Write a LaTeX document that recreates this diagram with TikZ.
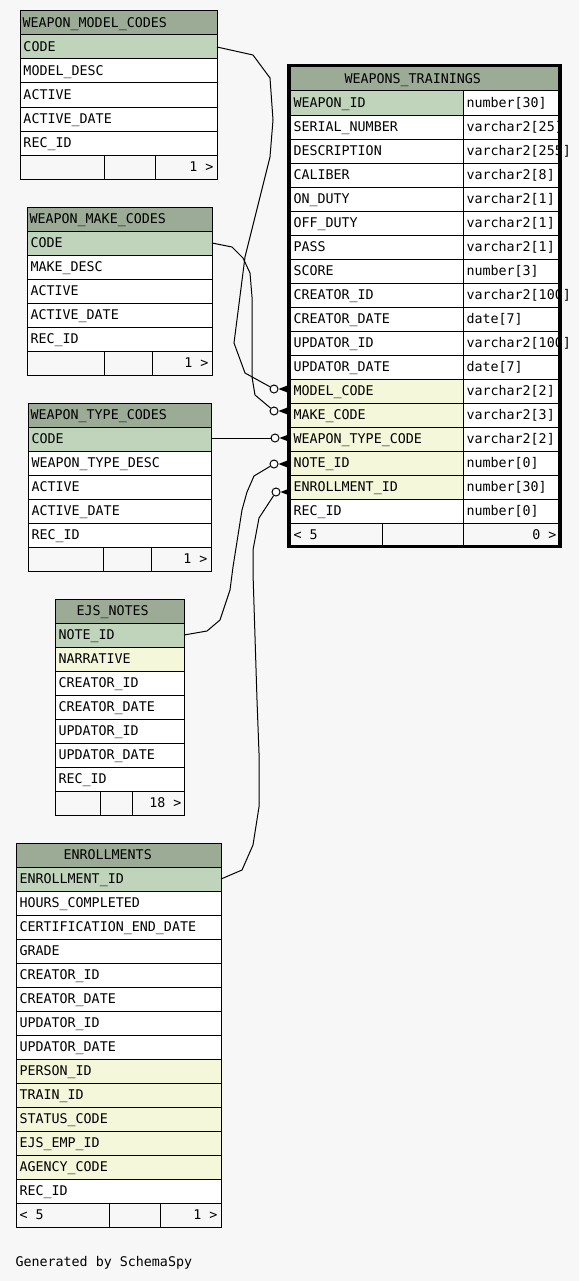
\documentclass[tikz,border=0pt]{standalone}
\usepackage{fontspec}
\newfontfamily\schemafont{DejaVu Sans Mono}
\definecolor{hdr}{HTML}{9BAB96}
\definecolor{pkc}{HTML}{BFD4BB}
\definecolor{fkc}{HTML}{F4F7DA}
\definecolor{bgc}{HTML}{F7F7F7}
\begin{document}
\begin{tikzpicture}[x=0.75pt,y=-0.75pt,line width=0.75pt,
  col/.style={anchor=west,inner sep=0pt,text height=7.2pt,text depth=0pt,
    font=\schemafont\fontsize{10}{12}\selectfont},
  colr/.style={col,anchor=east},
  fkend/.style={circle,draw,fill=white,inner sep=0pt,minimum size=6pt}]

\useasboundingbox (0,0) rectangle (579,1281);
\fill[bgc] (0,0) rectangle (579,1281);

% WEAPON_MODEL_CODES
\fill[hdr] (20,11) rectangle (217,35);
\fill[pkc] (20,35) rectangle (217,59);
\fill[white] (20,59) rectangle (217,155);
\draw (20,11) rectangle (217,179);
\draw (20,35) -- (217,35) (20,59) -- (217,59) (20,83) -- (217,83)
      (20,107) -- (217,107) (20,131) -- (217,131) (20,155) -- (217,155);
\draw (104,155) -- (104,179) (155,155) -- (155,179);
\node[col] (mc-h) at (22,23) {WEAPON\_MODEL\_CODES};
\node[col] (mc-code) at (23,47) {CODE};
\node[col] (mc-desc) at (23,71) {MODEL\_DESC};
\node[col] (mc-act) at (23,95) {ACTIVE};
\node[col] (mc-actd) at (23,119) {ACTIVE\_DATE};
\node[col] (mc-rec) at (23,143) {REC\_ID};
\node[colr] (mc-n) at (214,167) {1 >};
\coordinate (mc-pk) at (217,47);

% WEAPON_MAKE_CODES
\fill[hdr] (27,207) rectangle (212,231);
\fill[pkc] (27,231) rectangle (212,255);
\fill[white] (27,255) rectangle (212,351);
\draw (27,207) rectangle (212,375);
\draw (27,231) -- (212,231) (27,255) -- (212,255) (27,279) -- (212,279)
      (27,303) -- (212,303) (27,327) -- (212,327) (27,351) -- (212,351);
\draw (104,351) -- (104,375) (152,351) -- (152,375);
\node[col] (mk-h) at (29,219) {WEAPON\_MAKE\_CODES};
\node[col] (mk-code) at (30,243) {CODE};
\node[col] (mk-desc) at (30,267) {MAKE\_DESC};
\node[col] (mk-act) at (30,291) {ACTIVE};
\node[col] (mk-actd) at (30,315) {ACTIVE\_DATE};
\node[col] (mk-rec) at (30,339) {REC\_ID};
\node[colr] (mk-n) at (209,363) {1 >};
\coordinate (mk-pk) at (212,243);

% WEAPON_TYPE_CODES
\fill[hdr] (28,403) rectangle (211,427);
\fill[pkc] (28,427) rectangle (211,451);
\fill[white] (28,451) rectangle (211,547);
\draw (28,403) rectangle (211,571);
\draw (28,427) -- (211,427) (28,451) -- (211,451) (28,475) -- (211,475)
      (28,499) -- (211,499) (28,523) -- (211,523) (28,547) -- (211,547);
\draw (103,547) -- (103,571) (151,547) -- (151,571);
\node[col] (ty-h) at (30,415) {WEAPON\_TYPE\_CODES};
\node[col] (ty-code) at (31,439) {CODE};
\node[col] (ty-desc) at (31,463) {WEAPON\_TYPE\_DESC};
\node[col] (ty-act) at (31,487) {ACTIVE};
\node[col] (ty-actd) at (31,511) {ACTIVE\_DATE};
\node[col] (ty-rec) at (31,535) {REC\_ID};
\node[colr] (ty-n) at (208,559) {1 >};
\coordinate (ty-pk) at (211,438);

% EJS_NOTES
\fill[hdr] (55,599) rectangle (184,623);
\fill[pkc] (55,623) rectangle (184,647);
\fill[fkc] (55,647) rectangle (184,671);
\fill[white] (55,671) rectangle (184,791);
\draw (55,599) rectangle (184,815);
\draw (55,623) -- (184,623) (55,647) -- (184,647) (55,671) -- (184,671)
      (55,695) -- (184,695) (55,719) -- (184,719) (55,743) -- (184,743)
      (55,767) -- (184,767) (55,791) -- (184,791);
\draw (100,791) -- (100,815) (132,791) -- (132,815);
\node[col] (no-h) at (76,611) {EJS\_NOTES};
\node[col] (no-id) at (58,635) {NOTE\_ID};
\node[col] (no-narr) at (58,659) {NARRATIVE};
\node[col] (no-cid) at (58,683) {CREATOR\_ID};
\node[col] (no-cdt) at (58,707) {CREATOR\_DATE};
\node[col] (no-uid) at (58,731) {UPDATOR\_ID};
\node[col] (no-udt) at (58,755) {UPDATOR\_DATE};
\node[col] (no-rec) at (58,779) {REC\_ID};
\node[colr] (no-n) at (182,803) {18 >};
\coordinate (no-pk) at (184,635);

% ENROLLMENTS
\fill[hdr] (16,843) rectangle (221,867);
\fill[pkc] (16,867) rectangle (221,891);
\fill[white] (16,891) rectangle (221,1059);
\fill[fkc] (16,1059) rectangle (221,1179);
\fill[white] (16,1179) rectangle (221,1203);
\draw (16,843) rectangle (221,1227);
\draw (16,867) -- (221,867) (16,891) -- (221,891) (16,915) -- (221,915)
      (16,939) -- (221,939) (16,963) -- (221,963) (16,987) -- (221,987)
      (16,1011) -- (221,1011) (16,1035) -- (221,1035) (16,1059) -- (221,1059)
      (16,1083) -- (221,1083) (16,1107) -- (221,1107) (16,1131) -- (221,1131)
      (16,1155) -- (221,1155) (16,1179) -- (221,1179) (16,1203) -- (221,1203);
\draw (109,1203) -- (109,1227) (160,1203) -- (160,1227);
\node[col] (er-h) at (63,855) {ENROLLMENTS};
\node[col] (er-id) at (19,879) {ENROLLMENT\_ID};
\node[col] (er-hours) at (19,903) {HOURS\_COMPLETED};
\node[col] (er-cert) at (19,927) {CERTIFICATION\_END\_DATE};
\node[col] (er-grade) at (19,951) {GRADE};
\node[col] (er-cid) at (19,975) {CREATOR\_ID};
\node[col] (er-cdt) at (19,999) {CREATOR\_DATE};
\node[col] (er-uid) at (19,1023) {UPDATOR\_ID};
\node[col] (er-udt) at (19,1047) {UPDATOR\_DATE};
\node[col] (er-person) at (19,1071) {PERSON\_ID};
\node[col] (er-train) at (19,1095) {TRAIN\_ID};
\node[col] (er-status) at (19,1119) {STATUS\_CODE};
\node[col] (er-emp) at (19,1143) {EJS\_EMP\_ID};
\node[col] (er-agency) at (19,1167) {AGENCY\_CODE};
\node[col] (er-rec) at (19,1191) {REC\_ID};
\node[col] (er-p) at (19,1215) {< 5};
\node[colr] (er-n) at (218,1215) {1 >};
\coordinate (er-pk) at (221,879);

% WEAPONS_TRAININGS
\fill[hdr] (290,67) rectangle (558,91);
\fill[pkc] (290,91) rectangle (463,115);
\fill[white] (463,91) rectangle (558,523);
\fill[white] (290,115) rectangle (463,379);
\fill[fkc] (290,379) rectangle (463,499);
\fill[white] (290,499) rectangle (463,523);
\draw (290,91) -- (558,91) (290,115) -- (558,115) (290,139) -- (558,139)
      (290,163) -- (558,163) (290,187) -- (558,187) (290,211) -- (558,211)
      (290,235) -- (558,235) (290,259) -- (558,259) (290,283) -- (558,283)
      (290,307) -- (558,307) (290,331) -- (558,331) (290,355) -- (558,355)
      (290,379) -- (558,379) (290,403) -- (558,403) (290,427) -- (558,427)
      (290,451) -- (558,451) (290,475) -- (558,475) (290,499) -- (558,499)
      (290,523) -- (558,523);
\draw (463,91) -- (463,547) (382,523) -- (382,547);
\node[col] (wt-h) at (344,79) {WEAPONS\_TRAININGS};
\node[col] (wt-id) at (293,103) {WEAPON\_ID};
\node[col] (wt-serial) at (293,127) {SERIAL\_NUMBER};
\node[col] (wt-desc) at (293,151) {DESCRIPTION};
\node[col] (wt-cal) at (293,175) {CALIBER};
\node[col] (wt-on) at (293,199) {ON\_DUTY};
\node[col] (wt-off) at (293,223) {OFF\_DUTY};
\node[col] (wt-pass) at (293,247) {PASS};
\node[col] (wt-score) at (293,271) {SCORE};
\node[col] (wt-cid) at (293,295) {CREATOR\_ID};
\node[col] (wt-cdt) at (293,319) {CREATOR\_DATE};
\node[col] (wt-uid) at (293,343) {UPDATOR\_ID};
\node[col] (wt-udt) at (293,367) {UPDATOR\_DATE};
\node[col] (wt-model) at (293,391) {MODEL\_CODE};
\node[col] (wt-make) at (293,415) {MAKE\_CODE};
\node[col] (wt-type) at (293,439) {WEAPON\_TYPE\_CODE};
\node[col] (wt-note) at (293,463) {NOTE\_ID};
\node[col] (wt-enroll) at (293,487) {ENROLLMENT\_ID};
\node[col] (wt-rec) at (293,511) {REC\_ID};
\node[col] (wt-id-t) at (466,103) {number[30]};
\node[col] (wt-serial-t) at (466,127) {varchar2[25]};
\node[col] (wt-desc-t) at (466,151) {varchar2[255]};
\node[col] (wt-cal-t) at (466,175) {varchar2[8]};
\node[col] (wt-on-t) at (466,199) {varchar2[1]};
\node[col] (wt-off-t) at (466,223) {varchar2[1]};
\node[col] (wt-pass-t) at (466,247) {varchar2[1]};
\node[col] (wt-score-t) at (466,271) {number[3]};
\node[col] (wt-cid-t) at (466,295) {varchar2[100]};
\node[col] (wt-cdt-t) at (466,319) {date[7]};
\node[col] (wt-uid-t) at (466,343) {varchar2[100]};
\node[col] (wt-udt-t) at (466,367) {date[7]};
\node[col] (wt-model-t) at (466,391) {varchar2[2]};
\node[col] (wt-make-t) at (466,415) {varchar2[3]};
\node[col] (wt-type-t) at (466,439) {varchar2[2]};
\node[col] (wt-note-t) at (466,463) {number[0]};
\node[col] (wt-enroll-t) at (466,487) {number[30]};
\node[col] (wt-rec-t) at (466,511) {number[0]};
\node[col] (wt-p) at (293,535) {< 5};
\node[colr] (wt-n) at (557,535) {0 >};
\draw[line width=2.6pt] (289,65.3) rectangle (560,546.5);

% relationships
\node[fkend] (c-model) at (274,389) {};
\node[fkend] (c-make) at (274,411) {};
\node[fkend] (c-type) at (275,438) {};
\node[fkend] (c-note) at (274,464) {};
\node[fkend] (c-enroll) at (276,492) {};

\draw (mc-pk) -- (253,55) -- (270,78) -- (273,120) -- (270,157) -- (245,257)
      -- (234,343) -- (245,373) -- (c-model);
\draw (mk-pk) -- (232,247) -- (243,258) -- (250,273) -- (252,297) -- (252,377)
      -- (255,395) -- (c-make);
\draw (ty-pk) -- (c-type);
\draw (no-pk) -- (207,631) -- (220,620) -- (230,590) -- (233,567) -- (242,510)
      -- (247,492) -- (254,476) -- (c-note);
\draw (er-pk) -- (242,870) -- (253,845) -- (259,807) -- (259,753) -- (257,700)
      -- (253,573) -- (253,550) -- (259,518) -- (c-enroll);

\fill (c-model.east) -- +(9,-3.5) -- +(9,3.5) -- cycle;
\fill (c-make.east) -- +(9,-3.5) -- +(9,3.5) -- cycle;
\fill (c-type.east) -- +(9,-3.5) -- +(9,3.5) -- cycle;
\fill (c-note.east) -- +(9,-3.5) -- +(9,3.5) -- cycle;
\fill (c-enroll.east) -- +(9,-3.5) -- +(9,3.5) -- cycle;

\node[col] (gen) at (15,1262) {Generated by SchemaSpy};
\end{tikzpicture}
\end{document}
